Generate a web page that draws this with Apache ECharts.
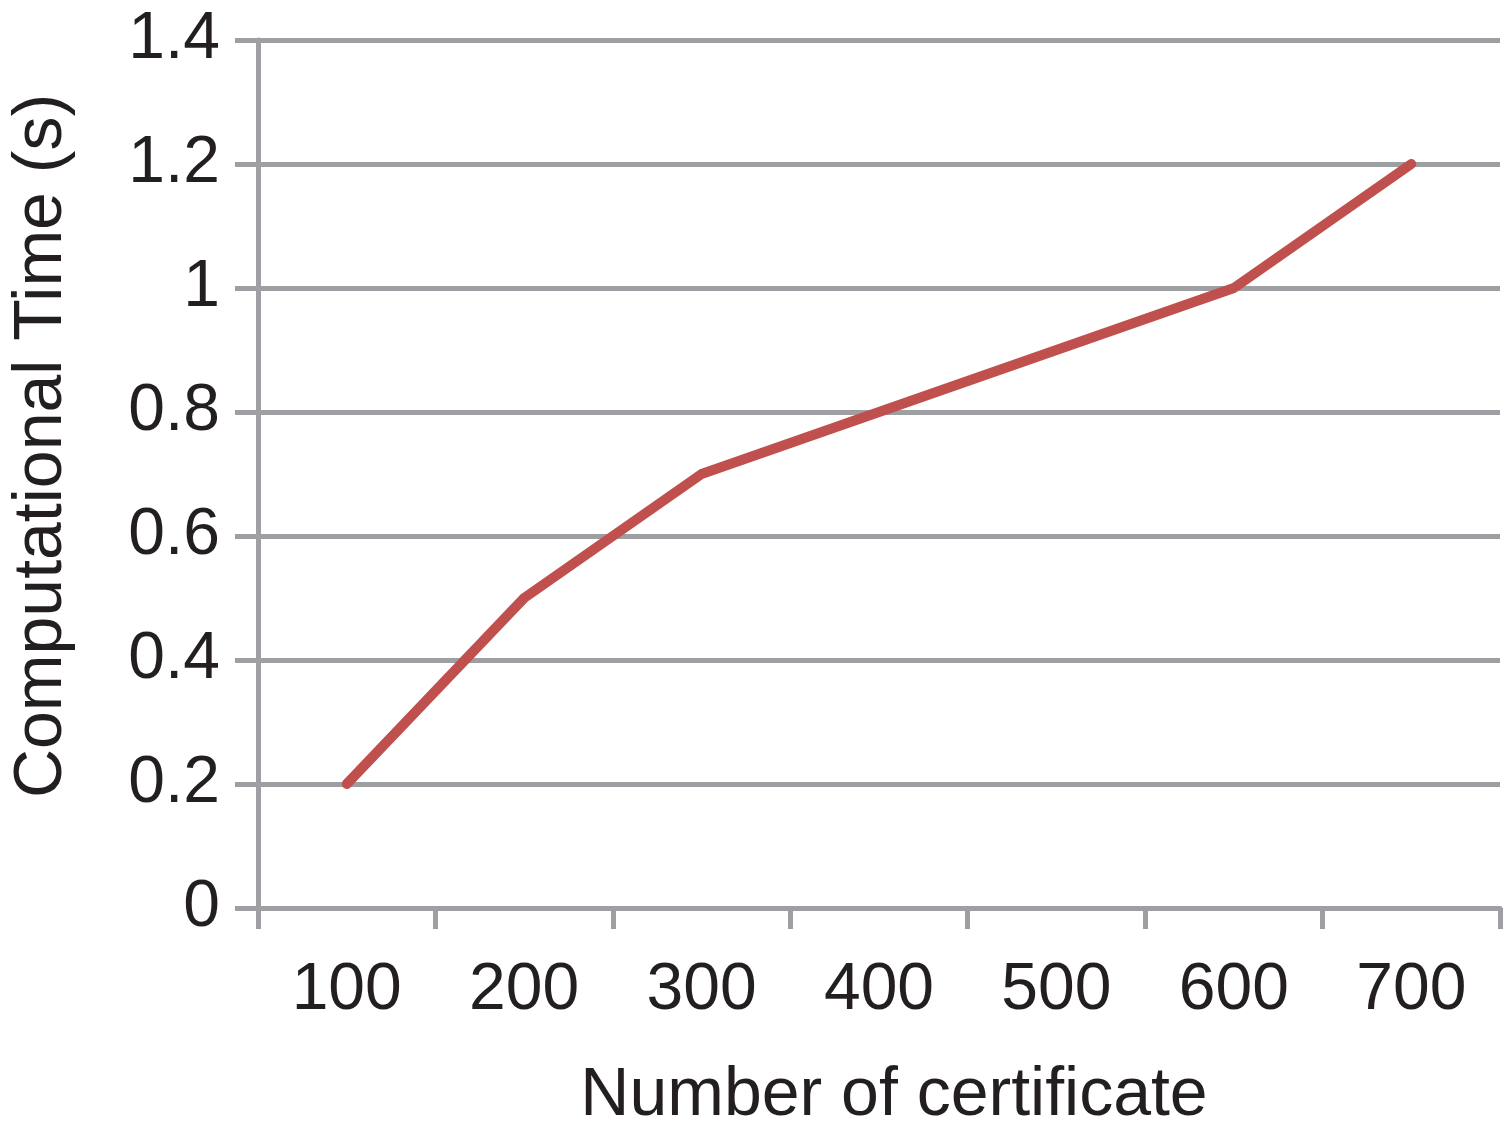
<!DOCTYPE html>
<html>
<head>
<meta charset="utf-8">
<script src="https://cdn.jsdelivr.net/npm/echarts@6/dist/echarts.min.js"></script>
<style>
  html, body { margin: 0; padding: 0; background: #fff; }
  #chart { width: 1503px; height: 1135px; }
</style>
</head>
<body>
<div id="chart"></div>
<script>
const categories = ['100', '200', '300', '400', '500', '600', '700']
const timeValues = [0.2, 0.5, 0.7, 0.8, 0.9, 1.0, 1.2]
const yTicks = [0, 0.2, 0.4, 0.6, 0.8, 1, 1.2, 1.4]

const gray = '#9d9fa2'
const ink = '#231f20'
const font = '"Liberation Sans", Arial, Helvetica, sans-serif'

const chart = echarts.init(document.getElementById('chart'))

chart.setOption({
  animation: false,
  backgroundColor: '#fff',
  grid: { left: 253, right: 3, top: 40, bottom: 222 },
  xAxis: {
    type: 'category',
    data: categories,
    boundaryGap: true,
    name: 'Number of certificate',
    nameLocation: 'middle',
    nameGap: 154,
    nameTextStyle: { fontSize: 68, color: ink, fontFamily: font, padding: [0, 0, 0, 30] },
    axisLine: { show: true, lineStyle: { color: gray, width: 5 } },
    axisTick: { show: true, length: 21, interval: 0, lineStyle: { color: gray, width: 5 } },
    axisLabel: { fontSize: 66, color: ink, fontFamily: font, margin: 50, interval: 0 },
    splitLine: { show: false }
  },
  yAxis: {
    type: 'value',
    min: yTicks[0],
    max: yTicks[yTicks.length - 1],
    interval: 0.2,
    name: 'Computational Time (s)',
    nameLocation: 'middle',
    nameGap: 182,
    nameTextStyle: { fontSize: 68, color: ink, fontFamily: font, padding: [0, 0, 0, 56] },
    axisLine: { show: true, lineStyle: { color: gray, width: 5 } },
    axisTick: { show: true, length: 23, lineStyle: { color: gray, width: 5 } },
    axisLabel: { fontSize: 66, color: ink, fontFamily: font, margin: 38 },
    splitLine: { show: true, lineStyle: { color: gray, width: 5 } }
  },
  series: [{
    type: 'line',
    data: timeValues,
    showSymbol: false,
    symbol: 'none',
    lineStyle: { color: '#c0504d', width: 10, cap: 'round', join: 'round' },
    z: 5
  }]
})
</script>
</body>
</html>
